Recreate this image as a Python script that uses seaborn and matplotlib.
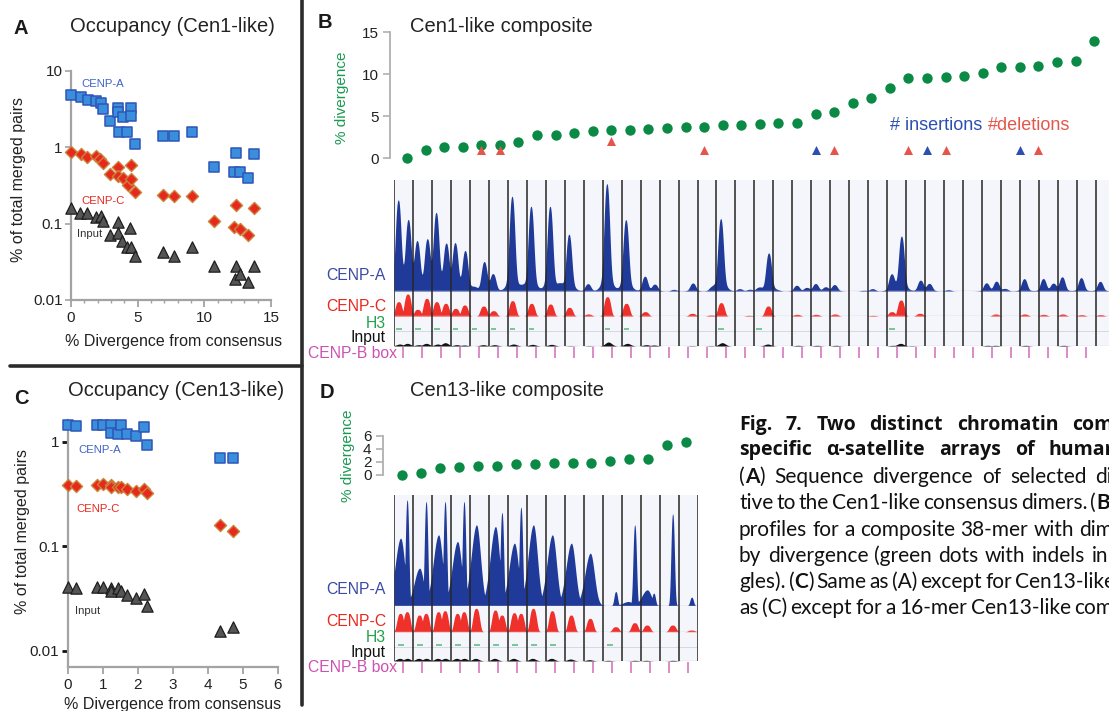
import numpy as np
import matplotlib
matplotlib.use("Agg")
import matplotlib.pyplot as plt
import seaborn as sns
from matplotlib.lines import Line2D
from matplotlib.ticker import FixedLocator, FixedFormatter, NullLocator

# ---------------- data ----------------
# Panel A (Cen1-like occupancy)
a_cenpa_x = [0, 0.75, 1.25, 1.9, 2.25, 2.4, 2.9, 3.5, 3.5, 3.6, 3.9, 4.2, 4.5, 4.5, 4.8, 6.9, 7.75, 9.1, 10.7, 12.25, 12.4, 12.7, 13.25, 13.7]
a_cenpa_y = [4.85, 4.5, 4.17, 4.0, 3.8, 3.2, 2.2, 3.3, 2.9, 1.6, 2.5, 1.6, 3.3, 2.6, 1.1, 1.4, 1.4, 1.6, 0.55, 0.48, 0.85, 0.47, 0.40, 0.83]
a_cenpc_x = [0, 0.75, 1.2, 1.9, 2.2, 2.4, 2.9, 3.5, 3.5, 3.9, 4.3, 4.5, 4.5, 4.8, 6.9, 7.75, 9.1, 10.7, 12.25, 12.4, 12.7, 13.3, 13.7]
a_cenpc_y = [0.88, 0.82, 0.75, 0.76, 0.70, 0.62, 0.45, 0.56, 0.42, 0.40, 0.32, 0.59, 0.38, 0.26, 0.24, 0.23, 0.23, 0.11, 0.09, 0.176, 0.085, 0.071, 0.16]
a_input_x = [0, 0.7, 1.2, 1.9, 2.25, 2.4, 2.9, 3.5, 3.5, 3.8, 4.2, 4.4, 4.5, 4.8, 6.9, 7.75, 9.1, 10.7, 12.3, 12.4, 12.7, 13.3, 13.7]
a_input_y = [0.16, 0.14, 0.136, 0.124, 0.126, 0.11, 0.072, 0.105, 0.075, 0.06, 0.05, 0.087, 0.05, 0.038, 0.043, 0.038, 0.05, 0.028, 0.019, 0.028, 0.022, 0.017, 0.028]
a_xticks = [0, 5, 10, 15]
a_xticklabels = ["0", "5", "10", "15"]
a_yticks = [0.01, 0.1, 1, 10]
a_yticklabels = ["0.01", "0.1", "1", "10"]

# Panel C (Cen13-like occupancy)
c_x = [0, 0.24, 0.83, 1.02, 1.24, 1.24, 1.45, 1.51, 1.69, 1.94, 2.19, 2.27, 4.36, 4.73]
c_cenpa_y = [1.44, 1.42, 1.44, 1.44, 1.44, 1.22, 1.18, 1.44, 1.18, 1.13, 1.37, 0.92, 0.69, 0.69]
c_cenpc_y = [0.385, 0.376, 0.385, 0.39, 0.385, 0.37, 0.37, 0.37, 0.35, 0.34, 0.35, 0.32, 0.16, 0.14]
c_input_y = [0.041, 0.040, 0.041, 0.041, 0.040, 0.037, 0.040, 0.037, 0.034, 0.032, 0.035, 0.027, 0.0153, 0.017]
c_xticks = [0, 1, 2, 3, 4, 5, 6]
c_xticklabels = ["0", "1", "2", "3", "4", "5", "6"]
c_yticks = [0.01, 0.1, 1]
c_yticklabels = ["0.01", "0.1", "1"]

# Panel B (Cen1-like composite, 38 dimers)
b_div = [0, 0.98, 1.26, 1.26, 1.57, 1.57, 1.93, 2.68, 2.76, 2.95, 3.19, 3.39, 3.35, 3.46, 3.58, 3.7, 3.7, 3.9, 3.98, 4.06,
         4.13, 4.17, 5.24, 5.47, 6.54, 7.09, 8.3, 9.53, 9.53, 9.65, 9.8, 10.16, 10.8, 10.8, 11.0, 11.38, 11.57, 13.9]
b_ins = [0, 0, 0, 0, 0, 0, 0, 0, 0, 0, 0, 0, 0, 0, 0, 0, 0, 0, 0, 0,
         0, 0, 1, 0, 0, 0, 0, 0, 1, 0, 0, 0, 0, 1, 0, 0, 0, 0]
b_del = [0, 0, 0, 0, 1, 1, 0, 0, 0, 0, 0, 2, 0, 0, 0, 0, 1, 0, 0, 0,
         0, 0, 0, 1, 0, 0, 0, 1, 0, 1, 0, 0, 0, 0, 1, 0, 0, 0]
b_yticks = [0, 5, 10, 15]
b_yticklabels = ["0", "5", "10", "15"]
b_cenpa_m1 = [270, 144, 230, 140, 10, 50, 284, 254, 254, 170, 22, 322, 214, 44, 0, 0, 0, 217, 7, 10,
              2, 17, 22, 19, 0, 7, 49, 0, 22, 4, 0, 24, 7, 37, 37, 42, 40, 29]
b_cenpa_m2 = [207, 149, 137, 119, 87, 0, 10, 0, 17, 0, 0, 0, 0, 20, 5, 24, 10, 0, 5, 114,
              0, 10, 12, 0, 2, 0, 164, 32, 0, 0, 0, 29, 0, 0, 22, 0, 0, 0]
b_cenpc_m1 = [43, 20, 43, 23, 0, 16, 46, 38, 36, 26, 6, 58, 38, 13, 0, 0, 0, 40, 0, 0,
              0, 5, 5, 6, 0, 2, 13, 0, 0, 0, 0, 0, 0, 6, 5, 6, 4, 4]
b_cenpc_m2 = [66, 53, 38, 33, 30, 0, 0, 0, 0, 0, 0, 0, 0, 0, 0, 8, 3, 0, 2, 30,
              0, 0, 0, 0, 0, 0, 48, 8, 0, 0, 0, 6, 0, 0, 0, 0, 0, 0]
b_input_m1 = [6, 4, 6, 4, 0, 4, 6, 5, 5, 1, 1, 12, 8, 4, 0, 0, 0, 10, 0, 0,
              0, 2, 2, 2, 0, 0, 2, 1, 0, 0, 0, 2, 0, 2, 0, 2, 0, 0]
b_input_m2 = [8, 8, 10, 3, 4, 0, 0, 0, 0, 0, 0, 0, 0, 3, 0, 1, 1, 0, 0, 6,
              0, 0, 0, 0, 0, 0, 8, 0, 0, 0, 0, 2, 0, 0, 0, 0, 0, 0]
b_h3 = [1, 1, 1, 1, 1, 1, 1, 1, 0, 0, 0, 1, 1, 0, 0, 0, 0, 1, 0, 1,
        0, 0, 0, 0, 0, 0, 1, 0, 0, 0, 0, 0, 0, 0, 0, 0, 0, 0]

# Panel D (Cen13-like composite, 16 dimers)
d_div = [0, 0.26, 0.97, 1.13, 1.33, 1.33, 1.64, 1.64, 1.74, 1.74, 1.74, 2.1, 2.36, 2.46, 4.6, 4.97]
d_yticks = [0, 2, 4, 6]
d_yticklabels = ["0", "2", "4", "6"]
d_cenpa_m1 = [202, 112, 212, 192, 242, 237, 187, 242, 212, 187, 157, 0, 12, 47, 0, 0]
d_cenpa_m2 = [317, 312, 312, 312, 0, 279, 295, 0, 0, 0, 0, 42, 242, 37, 275, 25]
d_cenpc_m1 = [55, 50, 60, 55, 70, 65, 57, 70, 63, 50, 40, 0, 0, 20, 0, 0]
d_cenpc_m2 = [60, 55, 63, 60, 0, 50, 55, 0, 0, 0, 0, 15, 27, 0, 20, 5]
d_input_m1 = [8, 8, 8, 8, 8, 8, 8, 8, 8, 6, 4, 2, 0, 2, 0, 0]
d_input_m2 = [8, 8, 8, 8, 0, 0, 0, 0, 0, 0, 0, 0, 2, 0, 2, 0]
d_h3 = [1, 1, 1, 1, 1, 1, 1, 1, 1, 0, 0, 1, 0, 0, 0, 0]

track_labels = ["CENP-A", "CENP-C", "H3", "Input", "CENP-B box"]

# caption lines; segments between * are bold
caption_lines = [
    ("Fig. 7. Two distinct chromatin com", True),
    ("specific α-satellite arrays of humar", True),
    ("(*A*) Sequence divergence of selected di", False),
    ("tive to the Cen1-like consensus dimers. (*B*)", False),
    ("profiles for a composite 38-mer with dim", False),
    ("by divergence (green dots with indels in", False),
    ("gles). (*C*) Same as (A) except for Cen13-like", False),
    ("as (C) except for a 16-mer Cen13-like com", False),
]

# ---------------- styling ----------------
sns.set_theme(style="white")
plt.rcParams['font.family'] = ['Liberation Sans', 'DejaVu Sans']

W, H = 1109, 711
fig = plt.figure(figsize=(W / 100, H / 100), dpi=100)
fig.patch.set_facecolor("white")

BLUE_SQ, BLUE_EDGE = "#3a8fdc", "#2f55b8"
RED_D, RED_EDGE = "#e8281c", "#c8843a"
GREY_T, GREY_EDGE = "#555555", "#1e1e1e"
GREEN = "#0b8a45"
NAVY = "#1f3a98"
TRACK_RED = "#f0302a"
MAGENTA = "#cc52b2"
AXGREY = "#a3a3a3"


def add_ax(l, t, r, b):
    ax = fig.add_axes([l / W, 1 - b / H, (r - l) / W, (b - t) / H])
    return ax


def ftext(x, y, s, **kw):
    kw.setdefault("va", "center")
    return fig.text(x / W, 1 - y / H, s, **kw)


def style_occ(ax, xlim, ylim, xt, xtl, yt, ytl, minor_x, ytick_color, ytick_w):
    ax.set_yscale("log")
    ax.set_xlim(*xlim)
    ax.set_ylim(*ylim)
    ax.set_facecolor("none")
    for s in ["top", "right"]:
        ax.spines[s].set_visible(False)
    for s in ["left", "bottom"]:
        ax.spines[s].set_color(AXGREY)
        ax.spines[s].set_linewidth(1.6)
    ax.xaxis.set_major_locator(FixedLocator(xt))
    ax.xaxis.set_major_formatter(FixedFormatter(xtl))
    if minor_x is not None:
        ax.xaxis.set_minor_locator(FixedLocator(minor_x))
    else:
        ax.xaxis.set_minor_locator(NullLocator())
    ax.yaxis.set_major_locator(FixedLocator(yt))
    ax.yaxis.set_major_formatter(FixedFormatter(ytl))
    ax.yaxis.set_minor_locator(NullLocator())
    ax.tick_params(axis="x", which="major", direction="out", length=5, width=1.3, color=AXGREY,
                   labelsize=11, labelcolor="#222222", pad=3, bottom=True)
    ax.tick_params(axis="x", which="minor", direction="out", length=2.5, width=1.0, color=AXGREY, bottom=True)
    ax.tick_params(axis="y", which="major", direction="out", length=4, width=ytick_w, color=ytick_color,
                   labelsize=11, labelcolor="#222222", pad=2, left=True)
    ax.set_xlabel("")
    ax.set_ylabel("")


def occ_scatter(ax, xs, ys, kind):
    if kind == "A":
        sns.scatterplot(x=xs, y=ys, ax=ax, marker="s", s=60, color=BLUE_SQ, edgecolor=BLUE_EDGE,
                        linewidth=1.1, clip_on=False, zorder=4, legend=False)
    elif kind == "C":
        sns.scatterplot(x=xs, y=ys, ax=ax, marker="D", s=38, color=RED_D, edgecolor=RED_EDGE,
                        linewidth=1.0, clip_on=False, zorder=4, legend=False)
    else:
        sns.scatterplot(x=xs, y=ys, ax=ax, marker="^", s=66, color=GREY_T, edgecolor=GREY_EDGE,
                        linewidth=0.9, clip_on=False, zorder=4, legend=False)


# ---------------- Panel A ----------------
axA = add_ax(71, 71, 271, 300)
occ_scatter(axA, a_input_x, a_input_y, "I")
occ_scatter(axA, a_cenpc_x, a_cenpc_y, "C")
occ_scatter(axA, a_cenpa_x, a_cenpa_y, "A")
style_occ(axA, (0, 15), (0.01, 10), a_xticks, a_xticklabels, a_yticks, a_yticklabels,
          list(range(0, 16)), AXGREY, 1.2)
ftext(14, 28, "A", fontsize=14.5, fontweight="bold", ha="left", color="#1a1a1a")
ftext(70, 27, "Occupancy (Cen1-like)", fontsize=14.5, ha="left", color="#222222")
ftext(19, 180, "% of total merged pairs", fontsize=11.5, rotation=90, ha="center", color="#222222")
ftext(174, 341, "% Divergence from consensus", fontsize=11.5, ha="center", color="#222222")
ftext(103, 84, "CENP-A", fontsize=8.2, ha="center", color="#3f62c8")
ftext(103, 201, "CENP-C", fontsize=8.2, ha="center", color="#e8281e")
ftext(90, 234, "Input", fontsize=8.2, ha="center", color="#333333")

# ---------------- Panel C ----------------
axC = add_ax(67.7, 420, 277.7, 666.7)
occ_scatter(axC, c_x, c_input_y, "I")
occ_scatter(axC, c_x, c_cenpc_y, "C")
occ_scatter(axC, c_x, c_cenpa_y, "A")
style_occ(axC, (0, 6), (0.00703, 1.61), c_xticks, c_xticklabels, c_yticks, c_yticklabels,
          None, "#111111", 2.0)
ftext(14, 398, "C", fontsize=14.5, fontweight="bold", ha="left", color="#1a1a1a")
ftext(68, 390, "Occupancy (Cen13-like)", fontsize=14.5, ha="left", color="#222222")
ftext(23, 532, "% of total merged pairs", fontsize=11.5, rotation=90, ha="center", color="#222222")
ftext(173, 705, "% Divergence from consensus", fontsize=11.5, ha="center", color="#222222")
ftext(99.5, 450, "CENP-A", fontsize=8.2, ha="center", color="#3f62c8")
ftext(98.5, 509, "CENP-C", fontsize=8.2, ha="center", color="#e8281e")
ftext(87.5, 611, "Input", fontsize=8.2, ha="center", color="#333333")


# ---------------- composite helpers ----------------
def dot_axes(l, t, r, b, xlim, ylim, yt, ytl, div, ins=None, dels=None):
    ax = add_ax(l, t, r, b)
    idx = np.arange(len(div))
    sns.scatterplot(x=idx, y=div, ax=ax, color=GREEN, s=56, linewidth=0, clip_on=False, zorder=4, legend=False)
    if ins is not None:
        ins = np.asarray(ins)
        dels = np.asarray(dels)
        ii = np.nonzero(ins)[0]
        dd = np.nonzero(dels)[0]
        sns.scatterplot(x=dd, y=dels[dd], ax=ax, marker="^", color="#e4564c", s=42, linewidth=0,
                        clip_on=False, zorder=4, legend=False)
        sns.scatterplot(x=ii, y=ins[ii], ax=ax, marker="^", color="#2c4fb2", s=42, linewidth=0,
                        clip_on=False, zorder=4, legend=False)
    ax.set_xlim(*xlim)
    ax.set_ylim(*ylim)
    ax.set_facecolor("none")
    for s in ["top", "right", "bottom"]:
        ax.spines[s].set_visible(False)
    ax.spines["left"].set_color("#b0b0b0")
    ax.spines["left"].set_linewidth(1.3)
    ax.xaxis.set_major_locator(NullLocator())
    ax.yaxis.set_major_locator(FixedLocator(yt))
    ax.yaxis.set_major_formatter(FixedFormatter(ytl))
    ax.tick_params(axis="y", direction="out", length=5, width=1.2, color="#b0b0b0",
                   labelsize=11, labelcolor="#222222", pad=3, left=True)
    ax.set_xlabel("")
    ax.set_ylabel("")
    return ax


def track(l, t, r, b, n, m1, m2, shapes, color, ymax, combine="max"):
    """shapes: per monomer (position, left width, right width, exponent, pedestal fraction, pedestal width)."""
    ax = add_ax(l, t, r, b)
    x = np.linspace(0, n, int(n * 80) + 1)
    y = np.zeros_like(x)
    for i in range(len(m1)):
        for h, (p, wl, wr, e, pf, pw) in zip((m1[i], m2[i]), shapes):
            if h > 0:
                d = x - (i + p)
                w = np.where(d < 0, wl, wr)
                prof = h * ((1 - pf) * np.exp(-(np.abs(d) / w) ** e) + pf * np.exp(-(d / pw) ** 2))
                y = np.maximum(y, prof) if combine == "max" else y + prof
    ax.fill_between(x, 0, np.minimum(y, ymax), color=color, linewidth=0)
    ax.set_xlim(0, n)
    ax.set_ylim(0, ymax)
    ax.set_facecolor("none")
    ax.set_axis_off()
    return ax


def tracks_block(n_dimers, xmax, top, a_b, c_t, c_b, h3_y, i_t, i_b, box_t, box_b,
                 a1, a2, c1, c2, i1, i2, h3, shapesA, shapesC, shapesI, combA):
    left, right = 394, 394 + xmax * 18.97
    bg = add_ax(left, top, right, i_b)
    bg.set_facecolor("#f4f6fb")
    bg.set_xlim(0, xmax)
    bg.set_ylim(0, 1)
    bg.set_xticks([])
    bg.set_yticks([])
    for s in bg.spines.values():
        s.set_visible(False)
    axa = track(left, top + 1, right, a_b, xmax, a1, a2, shapesA, NAVY, (a_b - top - 1) * 3, combA)
    axa.axhline(0, color="#c9bfdc", lw=1.0)
    axc = track(left, c_t, right, c_b, xmax, c1, c2, shapesC, TRACK_RED, (c_b - c_t) * 3)
    axc.axhline(0, color="#bfd2dc", lw=1.0)
    axh = add_ax(left, h3_y - 3, right, h3_y + 3)
    axh.set_xlim(0, xmax)
    axh.set_ylim(-1, 1)
    axh.set_axis_off()
    hh = np.nonzero(np.asarray(h3))[0]
    axh.hlines(np.zeros(len(hh)), hh + shapesA[0][0] - 0.12, hh + shapesA[0][0] + 0.18,
               color="#3aae66", lw=1.1, alpha=0.85)
    axh.hlines([-0.9], 0, xmax, color="#cfd6d6", lw=1.2)
    axi = track(left, i_t, right, i_b, xmax, i1, i2, shapesI, "#111111", (i_b - i_t) * 3)
    axi.axhline(0, color="#777777", lw=0.8)
    ov = add_ax(left, top, right, i_b)
    ov.set_xlim(0, xmax)
    ov.set_ylim(0, 1)
    ov.set_axis_off()
    ov.vlines(np.arange(0, n_dimers + 1), 0, 1, color="#262626", lw=1.1)
    axb = add_ax(left, box_t, right, box_b)
    axb.set_xlim(0, xmax)
    axb.set_ylim(0, 1)
    axb.set_axis_off()
    axb.vlines(np.arange(n_dimers) + 0.5, 0, 1, color=MAGENTA, lw=1.1, alpha=0.85)


def track_labels_at(ys):
    cols = ["#3a4aa5", "#e8291f", "#22a04c", "#111111", MAGENTA]
    xs = [386, 386, 386, 386, 397]
    for lab, y, c, x in zip(track_labels, ys, cols, xs):
        ftext(x, y, lab, fontsize=11.3, ha="right", color=c)


# ---------------- Panel B ----------------
axBd = dot_axes(390, 32, 1109, 158, (-0.915, 37.8), (0, 15), b_yticks, b_yticklabels, b_div, b_ins, b_del)
ftext(318, 22, "B", fontsize=14.5, fontweight="bold", ha="left", color="#1a1a1a")
ftext(410, 27, "Cen1-like composite", fontsize=14.5, ha="left", color="#222222")
ftext(342, 98, "% divergence", fontsize=11, rotation=90, ha="center", color="#1a9a50")
ftext(890, 126, "# insertions", fontsize=13, ha="left", color="#2c4fb2")
ftext(988, 126, "#deletions", fontsize=13, ha="left", color="#e4564c")

shapes_bA = [(0.22, 0.19, 0.19, 2.5, 0.15, 0.35), (0.75, 0.19, 0.19, 2.5, 0.15, 0.35)]
shapes_bC = [(0.24, 0.22, 0.22, 3.0, 0.0, 1.0), (0.72, 0.22, 0.22, 3.0, 0.0, 1.0)]
shapes_I = [(0.3, 0.24, 0.24, 2.0, 0.0, 1.0), (0.7, 0.24, 0.24, 2.0, 0.0, 1.0)]
tracks_block(37, (1109 - 394) / 18.97, 180, 291, 293, 316, 329, 332, 346, 347, 358,
             b_cenpa_m1, b_cenpa_m2, b_cenpc_m1, b_cenpc_m2, b_input_m1, b_input_m2, b_h3,
             shapes_bA, shapes_bC, shapes_I, "sum")
track_labels_at([275, 306, 324, 337, 353])

# ---------------- Panel D ----------------
axDd = dot_axes(382.7, 435.7, 700, 474.7, (-1.02, 15.73), (0, 6), d_yticks, d_yticklabels, d_div)
ftext(320, 393, "D", fontsize=14.5, fontweight="bold", ha="left", color="#1a1a1a")
ftext(410, 390, "Cen13-like composite", fontsize=14.5, ha="left", color="#222222")
ftext(348, 456, "% divergence", fontsize=11, rotation=90, ha="center", color="#1a9a50")

shapes_dA = [(0.35, 0.4, 0.3, 2.0, 0.0, 1.0), (0.69, 0.12, 0.12, 2.5, 0.0, 1.0)]
shapes_dC = [(0.33, 0.22, 0.22, 3.0, 0.0, 1.0), (0.68, 0.22, 0.22, 3.0, 0.0, 1.0)]
tracks_block(16, 16, 495, 605.5, 607, 631.7, 645, 647, 661, 662, 673,
             d_cenpa_m1, d_cenpa_m2, d_cenpc_m1, d_cenpc_m2, d_input_m1, d_input_m2, d_h3,
             shapes_dA, shapes_dC, shapes_I, "max")
track_labels_at([590, 622, 638, 652, 668])

# ---------------- separators ----------------
fig.add_artist(Line2D([301.5 / W, 301.5 / W], [1, 1 - 705 / H], transform=fig.transFigure,
                      color="#2b2b2b", lw=2.6))
fig.add_artist(Line2D([10 / W, 301.5 / W], [1 - 366.5 / H, 1 - 366.5 / H], transform=fig.transFigure,
                      color="#2b2b2b", lw=2.6))

# ---------------- caption (justified, cut at the right edge as in the source) ----------------
renderer = fig.canvas.get_renderer()
cap_fam = ["Lato", "DejaVu Sans"]
cap_bold_fam = ["Open Sans", "DejaVu Sans"]
cap_y = [425, 450, 477, 503, 530, 556, 582, 608]
cap_right = [1113, 1114, 1112, 1109, 1113, 1108, 1101, 1113]
for (line, all_bold), y, xr in zip(caption_lines, cap_y, cap_right):
    groups = []
    for word in line.split(" "):
        segs = word.split("*")
        g = []
        for k, s in enumerate(segs):
            if not s:
                continue
            b = all_bold or (k % 2 == 1)
            if all_bold:
                t = ftext(0, y, s, fontsize=14, fontweight="bold", family=cap_bold_fam,
                          ha="left", color="#111111")
            else:
                t = ftext(0, y, s, fontsize=15, fontweight="bold" if b else "normal",
                          family=cap_fam, ha="left", color="#111111")
            g.append((t, t.get_window_extent(renderer=renderer).width))
        groups.append(g)
    widths = [sum(w for _, w in g) for g in groups]
    gap = max(3.0, (xr - 739 - sum(widths)) / (len(groups) - 1))
    x = 739
    for g, ww in zip(groups, widths):
        xx = x
        for t, w in g:
            t.set_x(xx / W)
            xx += w
        x += ww + gap

fig.savefig("out.png", dpi=100)
